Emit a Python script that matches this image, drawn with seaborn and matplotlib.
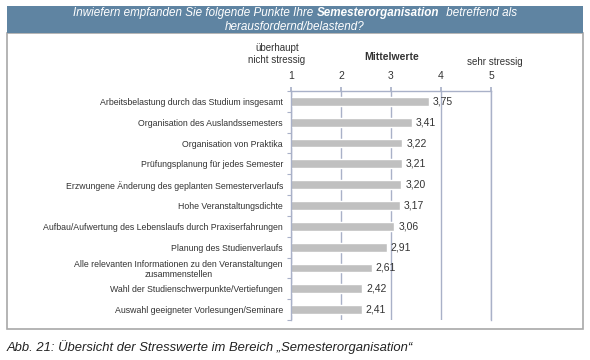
import seaborn as sns
import numpy as np
import pandas as pd
import matplotlib.pyplot as plt
from matplotlib.patches import Rectangle

items = [
    "Arbeitsbelastung durch das Studium insgesamt",
    "Organisation des Auslandssemesters",
    "Organisation von Praktika",
    "Prüfungsplanung für jedes Semester",
    "Erzwungene Änderung des geplanten Semesterverlaufs",
    "Hohe Veranstaltungsdichte",
    "Aufbau/Aufwertung des Lebenslaufs durch Praxiserfahrungen",
    "Planung des Studienverlaufs",
    "Alle relevanten Informationen zu den Veranstaltungen\nzusammenstellen",
    "Wahl der Studienschwerpunkte/Vertiefungen",
    "Auswahl geeigneter Vorlesungen/Seminare",
]
means = [3.75, 3.41, 3.22, 3.21, 3.20, 3.17, 3.06, 2.91, 2.61, 2.42, 2.41]
scale_ticks = [1, 2, 3, 4, 5]

sns.set_theme(style="white")
plt.rcParams['font.family'] = ['Liberation Sans', 'DejaVu Sans']

df = pd.DataFrame({"item": items, "mean": means})

W, H = 590, 360
fig = plt.figure(figsize=(5.9, 3.6), dpi=100)
gc = "#a9b1c8"
txt = "#333333"

# frame and header band
fig.patches.append(Rectangle((7 / W, 1 - 329 / H), 576 / W, 296 / H, transform=fig.transFigure,
                             fill=False, edgecolor="#a8a8a8", lw=1.2))
fig.patches.append(Rectangle((7 / W, 1 - 33 / H), 576 / W, 27 / H, transform=fig.transFigure,
                             facecolor="#5f84a2", edgecolor="none"))

ax = fig.add_axes([291 / W, 1 - 320 / H, 200 / W, 229 / H])
sns.barplot(data=df, x="mean", y="item", orient="h", color="#c0c0c0", saturation=1,
            width=0.42, ax=ax)
ax.set_xlim(1, 5)
ax.set_ylim(10.5, -0.5)
ax.set_xlabel("")
ax.set_ylabel("")

ax.xaxis.tick_top()
ax.set_xticks(scale_ticks)
ax.tick_params(axis="x", top=True, length=3, color=gc, pad=4, labelsize=7.5, labelcolor=txt)
ax.tick_params(axis="y", which="major", length=0, pad=5.8, labelsize=6.3, labelcolor=txt)
for lab in ax.get_yticklabels():
    lab.set_multialignment("center")
ax.set_yticks(np.arange(-0.5, 11, 1), minor=True)
ax.tick_params(axis="y", which="minor", left=True, length=3, color=gc, width=0.8)

ax.grid(axis="x", color=gc, lw=1)
ax.grid(axis="y", visible=False)
for side in ["top", "left", "right"]:
    ax.spines[side].set_color(gc)
    ax.spines[side].set_linewidth(1)
ax.spines["bottom"].set_visible(False)

ax.bar_label(ax.containers[0], labels=[f"{v:.2f}".replace(".", ",") for v in means],
             padding=3, fontsize=7.5, color=txt)

# header title with bold part
renderer = fig.canvas.get_renderer()
hs = 8.4
parts = [("Inwiefern empfanden Sie folgende Punkte Ihre", "normal"),
         ("Semesterorganisation", "bold"),
         (" betreffend als", "normal")]
y1 = 1 - 13 / H
tobjs = [fig.text(0, y1, s, color="white", fontsize=hs, style="italic", weight=w,
                  va="center", ha="left") for s, w in parts]
a = fig.text(0, 0, "xx", fontsize=hs, style="italic")
b = fig.text(0, 0, "x x", fontsize=hs, style="italic")
space = b.get_window_extent(renderer).width - a.get_window_extent(renderer).width
a.remove()
b.remove()
widths = [t.get_window_extent(renderer).width for t in tobjs]
total = sum(widths) + 2 * space
x = 295 - total / 2
for t, w in zip(tobjs, widths):
    t.set_x(x / W)
    x += w + space
fig.text(295 / W, 1 - 27 / H, "herausfordernd/belastend?", color="white", fontsize=hs,
         style="italic", weight="normal", ha="center", va="center")

fig.text(277 / W, 1 - 54 / H, "überhaupt\nnicht stressig", fontsize=7, color=txt,
         ha="center", va="center", linespacing=1.15)
fig.text(392 / W, 1 - 57 / H, "Mittelwerte", fontsize=7.5, weight="bold", color=txt,
         ha="center", va="center")
fig.text(495 / W, 1 - 62 / H, "sehr stressig", fontsize=7, color=txt,
         ha="center", va="center")

fig.text(7 / W, 1 - 347 / H, "Abb. 21: Übersicht der Stresswerte im Bereich „Semesterorganisation“",
         fontsize=9.4, style="italic", color="#222222", ha="left", va="center")

fig.savefig("out.png", dpi=100)
